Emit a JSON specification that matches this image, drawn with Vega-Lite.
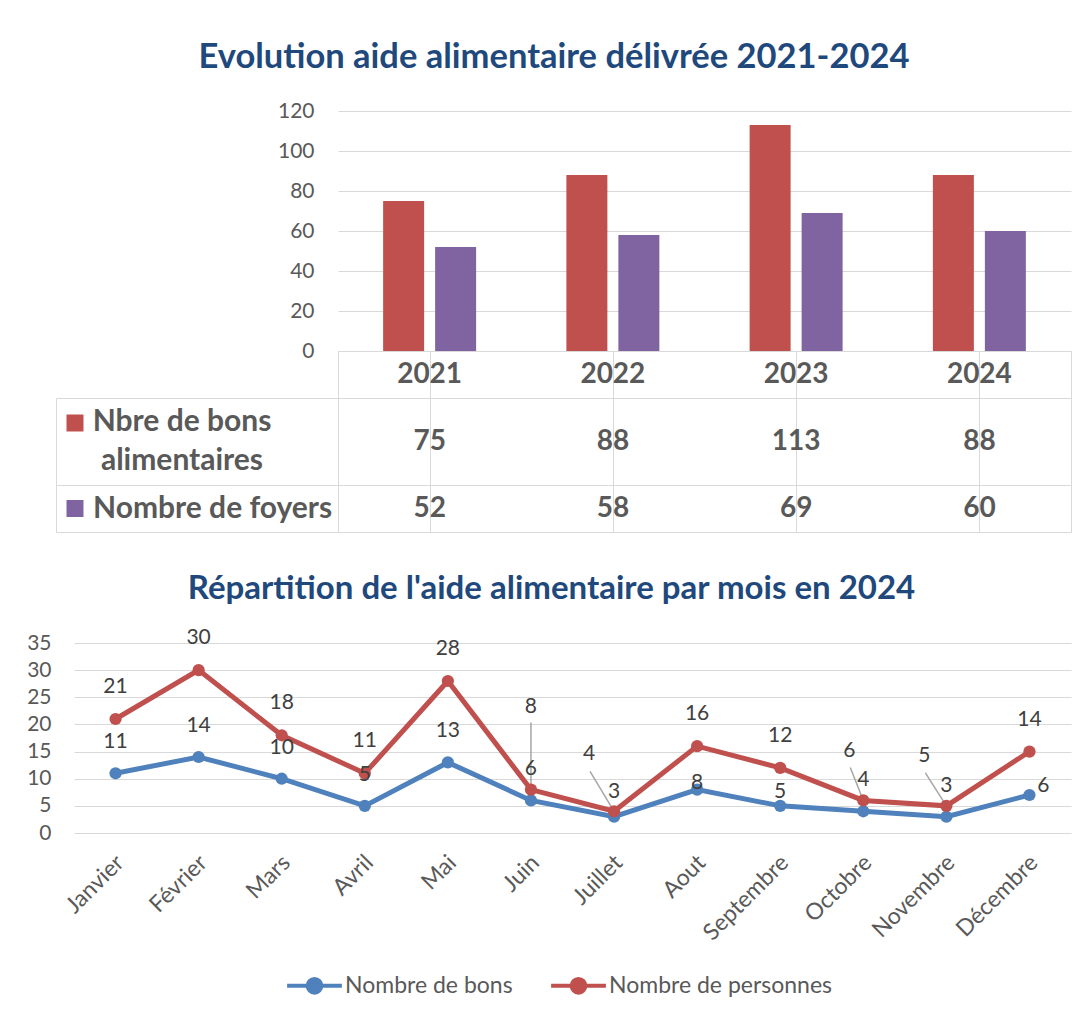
{
  "$schema": "https://vega.github.io/schema/vega-lite/v6.json",
  "padding": {"left": 26, "top": 39, "right": 0, "bottom": 0},
  "background": "white",
  "config": {
    "font": "Lato",
    "view": {"stroke": null},
    "axis": {"labelFont": "Lato", "labelColor": "#595959", "domain": false, "ticks": false, "gridColor": "#D9D9D9", "gridWidth": 1},
    "title": {"font": "Lato", "fontWeight": "bold", "color": "#1F497D", "fontSize": 33}
  },
  "resolve": {"scale": {"color": "independent"}, "legend": {"color": "independent"}},
  "datasets": {
    "annual": [
      {"year": "2021", "series": "Nbre de bons\nalimentaires", "value": 75},
      {"year": "2022", "series": "Nbre de bons\nalimentaires", "value": 88},
      {"year": "2023", "series": "Nbre de bons\nalimentaires", "value": 113},
      {"year": "2024", "series": "Nbre de bons\nalimentaires", "value": 88},
      {"year": "2021", "series": "Nombre de foyers", "value": 52},
      {"year": "2022", "series": "Nombre de foyers", "value": 58},
      {"year": "2023", "series": "Nombre de foyers", "value": 69},
      {"year": "2024", "series": "Nombre de foyers", "value": 60}
    ],
    "monthly": [
      {"mois": "Janvier", "serie": "Nombre de bons", "valeur": 11, "etiquette": "11"},
      {"mois": "Février", "serie": "Nombre de bons", "valeur": 14, "etiquette": "14"},
      {"mois": "Mars", "serie": "Nombre de bons", "valeur": 10, "etiquette": "10"},
      {"mois": "Avril", "serie": "Nombre de bons", "valeur": 5, "etiquette": "5"},
      {"mois": "Mai", "serie": "Nombre de bons", "valeur": 13, "etiquette": "13"},
      {"mois": "Juin", "serie": "Nombre de bons", "valeur": 6, "etiquette": "6"},
      {"mois": "Juillet", "serie": "Nombre de bons", "valeur": 3, "etiquette": "3"},
      {"mois": "Aout", "serie": "Nombre de bons", "valeur": 8, "etiquette": "8"},
      {"mois": "Septembre", "serie": "Nombre de bons", "valeur": 5, "etiquette": "5"},
      {"mois": "Octobre", "serie": "Nombre de bons", "valeur": 4, "etiquette": "4"},
      {"mois": "Novembre", "serie": "Nombre de bons", "valeur": 3, "etiquette": "3"},
      {"mois": "Décembre", "serie": "Nombre de bons", "valeur": 7, "etiquette": "6"},
      {"mois": "Janvier", "serie": "Nombre de personnes", "valeur": 21, "etiquette": "21"},
      {"mois": "Février", "serie": "Nombre de personnes", "valeur": 30, "etiquette": "30"},
      {"mois": "Mars", "serie": "Nombre de personnes", "valeur": 18, "etiquette": "18"},
      {"mois": "Avril", "serie": "Nombre de personnes", "valeur": 11, "etiquette": "11"},
      {"mois": "Mai", "serie": "Nombre de personnes", "valeur": 28, "etiquette": "28"},
      {"mois": "Juin", "serie": "Nombre de personnes", "valeur": 8, "etiquette": "8"},
      {"mois": "Juillet", "serie": "Nombre de personnes", "valeur": 4, "etiquette": "4"},
      {"mois": "Aout", "serie": "Nombre de personnes", "valeur": 16, "etiquette": "16"},
      {"mois": "Septembre", "serie": "Nombre de personnes", "valeur": 12, "etiquette": "12"},
      {"mois": "Octobre", "serie": "Nombre de personnes", "valeur": 6, "etiquette": "6"},
      {"mois": "Novembre", "serie": "Nombre de personnes", "valeur": 5, "etiquette": "5"},
      {"mois": "Décembre", "serie": "Nombre de personnes", "valeur": 15, "etiquette": "14"}
    ]
  },
  "spacing": 40,
  "vconcat": [
    {
      "title": {"text": "Evolution aide alimentaire délivrée 2021-2024", "anchor": "middle", "offset": 25, "dx": -9.5, "fontSize": 34.5},
      "columns": 2,
      "spacing": 0,
      "bounds": "flush",
      "concat": [
        {"width": 282, "height": 240, "data": {"values": []}, "mark": "point"},
        {
          "width": 733, "height": 240,
          "data": {"name": "annual"},
          "mark": {"type": "bar"},
          "encoding": {
            "x": {"field": "year", "type": "nominal", "scale": {"paddingInner": 0, "paddingOuter": 0}, "axis": null},
            "xOffset": {"field": "series", "type": "nominal", "scale": {"domain": ["Nbre de bons\nalimentaires", "Nombre de foyers"], "paddingInner": 0.2115, "paddingOuter": 0.868}},
            "y": {"field": "value", "type": "quantitative", "scale": {"domain": [0, 120]}, "axis": {"title": null, "values": [0, 20, 40, 60, 80, 100, 120], "labelFontSize": 21, "labelPadding": 24, "grid": true}},
            "color": {"field": "series", "type": "nominal", "scale": {"domain": ["Nbre de bons\nalimentaires", "Nombre de foyers"], "range": ["#C0504D", "#8064A2"]}, "legend": null}
          }
        },
        {"width": 282, "height": 47, "data": {"values": []}, "mark": "point"},
        {
          "width": 733, "height": 47,
          "view": {"stroke": "#D9D9D9"},
          "data": {"name": "annual"},
          "transform": [{"filter": "datum.series === 'Nombre de foyers'"}],
          "mark": {"type": "text", "fontSize": 28, "fontWeight": "bold", "color": "#595959"},
          "encoding": {
            "x": {"field": "year", "type": "nominal", "scale": {"paddingInner": 0, "paddingOuter": 0}, "axis": {"title": null, "grid": true, "labels": false, "bandPosition": 0}},
            "text": {"field": "year"}
          }
        },
        {
          "width": 282, "height": 87,
          "view": {"stroke": "#D9D9D9"},
          "data": {"name": "annual"},
          "transform": [{"filter": "datum.year === '2021' && datum.series === 'Nbre de bons\\nalimentaires'"}],
          "layer": [
            {"mark": {"type": "square", "size": 289, "filled": true, "opacity": 1, "x": 19, "y": 25, "color": "#C0504D"}, "encoding": {}},
            {"mark": {"type": "text", "align": "center", "x": 126, "dy": -19.5, "lineBreak": "\n", "lineHeight": 39, "fontSize": 30, "fontWeight": "bold", "color": "#595959"}, "encoding": {"text": {"field": "series"}}}
          ]
        },
        {
          "width": 733, "height": 87,
          "view": {"stroke": "#D9D9D9"},
          "data": {"name": "annual"},
          "transform": [{"filter": "datum.series === 'Nbre de bons\\nalimentaires'"}],
          "mark": {"type": "text", "fontSize": 28, "fontWeight": "bold", "color": "#595959"},
          "encoding": {
            "x": {"field": "year", "type": "nominal", "scale": {"paddingInner": 0, "paddingOuter": 0}, "axis": {"title": null, "grid": true, "labels": false, "bandPosition": 0}},
            "text": {"field": "value"}
          }
        },
        {
          "width": 282, "height": 47,
          "view": {"stroke": "#D9D9D9"},
          "data": {"name": "annual"},
          "transform": [{"filter": "datum.year === '2021' && datum.series === 'Nombre de foyers'"}],
          "layer": [
            {"mark": {"type": "square", "size": 289, "filled": true, "opacity": 1, "x": 19, "color": "#8064A2"}, "encoding": {}},
            {"mark": {"type": "text", "align": "left", "x": 37, "fontSize": 30, "fontWeight": "bold", "color": "#595959"}, "encoding": {"text": {"field": "series"}}}
          ]
        },
        {
          "width": 733, "height": 47,
          "view": {"stroke": "#D9D9D9"},
          "data": {"name": "annual"},
          "transform": [{"filter": "datum.series === 'Nombre de foyers'"}],
          "mark": {"type": "text", "fontSize": 28, "fontWeight": "bold", "color": "#595959"},
          "encoding": {
            "x": {"field": "year", "type": "nominal", "scale": {"paddingInner": 0, "paddingOuter": 0}, "axis": {"title": null, "grid": true, "labels": false, "bandPosition": 0}},
            "text": {"field": "value"}
          }
        }
      ]
    },
    {
      "spacing": 0,
      "bounds": "flush",
      "hconcat": [
        {"width": 18, "height": 190, "data": {"values": []}, "mark": "point"},
        {
          "width": 997, "height": 190,
          "title": {"text": "Répartition de l'aide alimentaire par mois en 2024", "anchor": "middle", "offset": 21, "dx": -21},
          "data": {"name": "monthly"},
          "encoding": {
            "x": {"field": "mois", "type": "nominal", "sort": ["Janvier", "Février", "Mars", "Avril", "Mai", "Juin", "Juillet", "Aout", "Septembre", "Octobre", "Novembre", "Décembre"], "scale": {"paddingInner": 0, "paddingOuter": 0}, "axis": {"title": null, "labelAngle": -45, "labelFontSize": 23, "labelPadding": 18, "labelOffset": -3, "grid": false}},
            "y": {"field": "valeur", "type": "quantitative", "scale": {"domain": [0, 35]}, "axis": {"title": null, "values": [0, 5, 10, 15, 20, 25, 30, 35], "labelFontSize": 21, "labelPadding": 23, "grid": true}},
            "color": {"field": "serie", "type": "nominal", "scale": {"domain": ["Nombre de bons", "Nombre de personnes"], "range": ["#4F81BD", "#C0504D"]}, "legend": {"orient": "none", "legendX": 229, "legendY": 313, "title": null, "direction": "horizontal", "symbolType": "M-1,0L1,0M0.25,0A0.25,0.25,0,1,1,-0.25,0A0.25,0.25,0,1,1,0.25,0Z", "symbolSize": 3000, "symbolStrokeWidth": 4, "labelFontSize": 23, "labelColor": "#595959", "labelFont": "Lato", "labelLimit": 0, "columnPadding": 30, "labelOffset": 1}}
          },
          "layer": [
            {
              "transform": [{"filter": "datum.serie === 'Nombre de personnes' && indexof(['Juin', 'Juillet', 'Octobre', 'Novembre'], datum.mois) >= 0"}],
              "mark": {"type": "rule", "color": "#A6A6A6", "strokeWidth": 1.5,
                "xOffset": {"expr": "datum.mois === 'Juillet' ? -24 : datum.mois === 'Octobre' ? -13 : datum.mois === 'Novembre' ? -21 : 0"},
                "yOffset": {"expr": "datum.mois === 'Juin' ? -67 : datum.mois === 'Juillet' ? -40 : -33"}},
              "encoding": {"x2": {"field": "mois"}, "y2": {"field": "valeur"}, "color": {"value": "#A6A6A6"}}
            },
            {"mark": {"type": "line", "strokeWidth": 5, "point": {"size": 150, "filled": true, "opacity": 1}}},
            {
              "mark": {"type": "text", "fontSize": 21, "color": "#404040",
                "dy": {"expr": "datum.serie === 'Nombre de personnes' ? (datum.mois === 'Juin' ? -83 : datum.mois === 'Juillet' ? -57 : datum.mois === 'Octobre' ? -49 : datum.mois === 'Novembre' ? -50 : -32) : (datum.mois === 'Juillet' ? -25 : datum.mois === 'Aout' ? -7 : datum.mois === 'Septembre' ? -14 : datum.mois === 'Décembre' ? -9 : -31)"},
                "dx": {"expr": "datum.serie === 'Nombre de personnes' ? (datum.mois === 'Juillet' ? -25 : datum.mois === 'Octobre' ? -14 : datum.mois === 'Novembre' ? -22 : 0) : (datum.mois === 'Décembre' ? 14 : 0)"}},
              "encoding": {"text": {"field": "etiquette"}, "color": {"value": "#404040"}}
            }
          ]
        }
      ]
    }
  ]
}
